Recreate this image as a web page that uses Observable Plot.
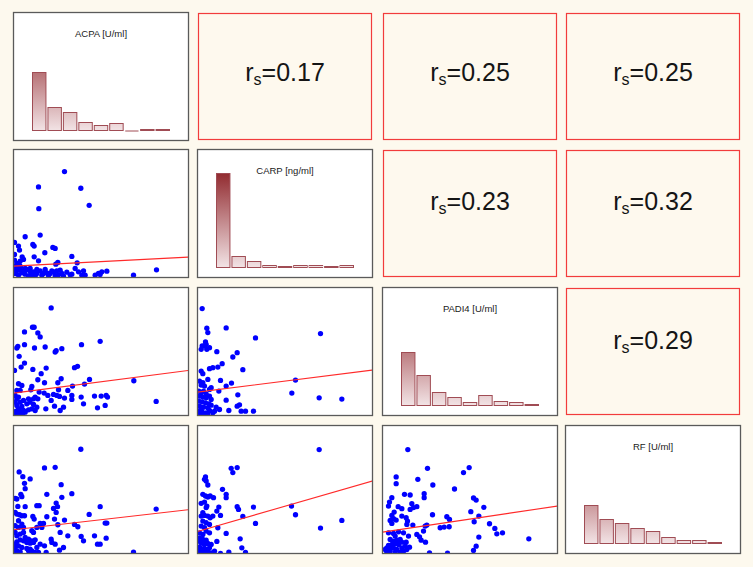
<!DOCTYPE html>
<html><head><meta charset="utf-8">
<script src="https://cdn.jsdelivr.net/npm/d3@7"></script>
<script src="https://cdn.jsdelivr.net/npm/@observablehq/plot@0.6"></script>
<style>
html,body{margin:0;padding:0;background:#fdf9ee;}
#chart{position:relative;width:753px;height:567px;background:#fdf9ee;overflow:hidden;font-family:"Liberation Sans",Arial,sans-serif;}
#chart svg{position:absolute;}
</style></head><body><div id="chart"></div>
<script>
// ---------- DATA ----------
const variables = ["ACPA [U/ml]", "CARP [ng/ml]", "PADI4 [U/ml]", "RF [U/ml]"];
const histBins = [0, 1, 2, 3, 4, 5, 6, 7, 8];
const histACPA  = [58, 23, 18, 8, 5, 7, 0, 1, 1];
const histCARP  = [94, 11, 6, 2, 1, 2, 2, 1, 2];
const histPADI4 = [53, 30, 13, 8, 3, 10, 4, 3, 1];
const histRF    = [38, 24, 20, 15, 12, 6, 3, 3, 1];

// Spearman coefficients (row, col, value) for the upper triangle
const rsRows = [0, 0, 0, 1, 1, 2];
const rsCols = [1, 2, 3, 2, 3, 3];
const rsValues = [0.17, 0.25, 0.25, 0.23, 0.32, 0.29];

// scatter values (relative units, x 0–525, y 0–383)
const xMax = 525, yMax = 383;
const acpaCarp = [[153,317],[75,271],[202,267],[76,206],[227,216],[35,122],[80,127],[3,105],[15,94],[18,82],[58,99],[62,94],[118,90],[125,87],[94,74],[3,69],[26,62],[30,54],[62,62],[75,50],[175,63],[191,44],[133,45],[127,40],[20,49],
[5,34],[10,27],[20,22],[30,20],[40,24],[50,27],[60,17],[70,12],[80,20],[95,24],[100,14],[110,12],[120,17],[130,20],[140,22],[145,12],[160,16],[175,10],[185,27],[195,17],[210,20],[215,7],[245,7],[255,12],[265,17],[280,19],[260,9],[5,12],[15,7],[25,14],[35,10],[45,4],[55,9],[65,4],[85,7],[105,6],[125,6],[135,8],[150,4],[170,8],[205,7],[360,7],[429,23],[3,22],[8,17],[18,37],[50,17],[35,27],[70,24],[90,12],[115,20],[22,32],[3,52],[10,42]];
const acpaPadi4 = [[113,322],[57,264],[62,264],[33,250],[73,247],[80,235],[260,222],[204,212],[33,212],[10,202],[13,207],[63,202],[95,205],[125,190],[128,194],[145,200],[17,177],[33,157],[23,145],[3,135],[58,138],[98,142],[183,143],[192,147],[83,125],[73,107],[93,98],[143,110],[133,98],[228,108],[213,94],[177,88],[15,95],[25,90],[55,87],[361,104],[10,75],[20,75],[52,77],[77,70],[92,67],[135,77],[163,75],[103,60],[120,63],[130,60],[138,57],[175,60],[153,52],[203,55],[243,58],[263,58],[278,60],[282,55],[428,42],[210,35],[175,48],[113,45],[123,28],[150,25],[97,20],[140,15],[275,30],[252,23],[60,50],[65,55],[73,50],
[5,60],[10,50],[15,55],[20,40],[5,40],[10,30],[15,20],[25,27],[30,15],[8,13],[20,10],[35,10],[45,17],[55,20],[65,15],[70,25],[40,35],[50,40],[30,45],[45,50],[60,33],[28,7],[5,7],[15,5]];
const acpaRF = [[202,312],[93,256],[125,258],[17,244],[28,230],[50,223],[33,210],[143,206],[35,194],[22,177],[25,170],[5,165],[10,163],[100,177],[175,179],[145,168],[128,151],[70,143],[77,143],[120,135],[132,140],[35,140],[13,141],[260,140],[428,133],[5,123],[10,118],[18,116],[25,113],[33,113],[128,123],[58,111],[62,103],[100,110],[123,103],[153,100],[227,117],[275,91],[280,91],[183,87],[193,80],[133,86],[90,90],[80,90],[70,78],[85,78],[15,98],[25,88],[5,83],[15,78],[30,78],[55,68],[60,63],[140,63],[163,53],[203,51],[210,38],[243,53],[278,46],[252,28],[260,28],[113,43],[115,33],[125,28],[150,18],[138,10],[93,23],[98,3],[75,3],[360,4],
[5,63],[10,53],[20,58],[30,63],[35,48],[45,43],[55,38],[65,41],[60,33],[50,31],[40,33],[30,38],[20,41],[10,35],[5,28],[5,18],[15,23],[25,18],[40,15],[50,13],[45,8],[55,8],[65,3],[10,8],[20,5],[5,3],[70,18],[80,28]];
const carpPadi4 = [[14,320],[28,261],[31,248],[86,262],[174,232],[369,245],[24,220],[26,213],[14,208],[11,198],[21,208],[28,198],[36,203],[58,191],[119,188],[106,175],[74,155],[61,145],[46,143],[36,140],[136,137],[11,133],[16,125],[31,108],[69,105],[102,97],[86,88],[294,106],[6,103],[16,98],[11,91],[21,88],[41,83],[36,78],[64,73],[283,67],[365,53],[433,49],[121,62],[86,46],[126,32],[119,28],[94,15],[131,13],[144,13],[168,13],[56,25],[66,18],[51,13],
[4,73],[11,68],[18,73],[26,65],[6,58],[16,55],[26,53],[36,58],[41,48],[4,43],[14,41],[24,38],[34,35],[6,28],[18,25],[31,23],[41,31],[4,13],[14,11],[26,8],[36,15],[21,3],[6,5],[46,8],[31,3],[11,18]];
const carpRF = [[365,311],[101,255],[119,257],[106,242],[24,229],[21,222],[26,217],[31,205],[75,192],[86,177],[86,167],[16,177],[24,172],[31,169],[38,172],[48,167],[11,150],[21,154],[28,142],[26,137],[64,139],[58,127],[119,140],[123,132],[168,139],[282,142],[294,116],[136,111],[174,90],[16,122],[11,112],[21,114],[31,112],[38,107],[46,112],[69,114],[16,97],[26,92],[36,87],[11,82],[21,77],[61,77],[369,76],[433,99],[86,60],[6,62],[16,57],[26,67],[36,62],[128,44],[58,36],[133,17],[144,3],[94,4],[69,0],[51,7],
[6,47],[16,42],[26,40],[11,32],[21,27],[31,30],[6,20],[16,14],[26,12],[36,17],[6,7],[18,4],[31,7],[41,2],[11,2],[41,27],[4,37]];
const padi4RF = [[76,311],[135,255],[243,242],[260,257],[41,229],[41,209],[106,222],[151,205],[216,193],[66,177],[83,175],[125,179],[125,167],[28,167],[21,154],[18,142],[273,166],[281,160],[88,149],[93,137],[103,140],[83,132],[47,140],[58,134],[304,138],[35,124],[28,114],[33,104],[23,99],[41,100],[28,90],[58,112],[71,107],[75,97],[73,87],[150,116],[265,125],[289,112],[193,110],[201,102],[275,95],[91,85],[133,85],[128,82],[173,77],[185,79],[200,80],[321,89],[337,75],[343,59],[360,62],[439,44],[289,49],[281,22],[273,9],[103,57],[111,50],[116,40],[123,67],[129,34],[141,2],[195,1],[18,62],[33,60],[48,65],[63,62],[78,52],[38,52],
[23,42],[33,37],[43,40],[53,42],[58,34],[48,27],[38,30],[28,27],[18,24],[13,17],[23,14],[33,17],[43,12],[58,17],[68,22],[73,12],[63,7],[53,4],[38,4],[23,7],[13,4],[81,19],[71,34],[8,12]];

// regression lines: fitted y at x = 0 and at x = xMax
const lineACPA_CARP  = [34, 61];
const lineACPA_PADI4 = [67, 135];
const lineACPA_RF    = [71, 131];
const lineCARP_PADI4 = [70, 136];
const lineCARP_RF    = [66, 217];
const linePADI4_RF   = [64, 142];

// ---------- LAYOUT ----------
const colLeft = [13, 197, 382, 565];
const rowTop = [12, 149, 287, 425];
const PW = 175, PH = 128;
const rsDy = [-4, -12, -11];
const container = document.getElementById("chart");
const FONT = "'Liberation Sans', Arial, sans-serif";

const common = {
  width: PW + 2, height: PH + 2,
  marginTop: 1, marginRight: 1, marginBottom: 1, marginLeft: 1,
  style: {background: "transparent", fontFamily: FONT, overflow: "visible"}
};

function place(svg, i, j) {
  svg.style.left = (colLeft[j] - 1) + "px";
  svg.style.top = (rowTop[i] - 1) + "px";
  container.appendChild(svg);
}

function scatter(pts, line) {
  return Plot.plot({
    ...common,
    x: {domain: [0, xMax], axis: null},
    y: {domain: [0, yMax], axis: null},
    marks: [
      Plot.frame({fill: "white"}),
      Plot.dot(pts, {x: d => d[0], y: d => d[1], r: 2.65, fill: "#0000ff", stroke: "none", clip: true}),
      Plot.line([[0, line[0]], [xMax, line[1]]], {x: d => d[0], y: d => d[1], stroke: "#ff2a2a", strokeWidth: 1.1, clip: true}),
      Plot.frame({stroke: "#5a5a5a", strokeWidth: 1.3})
    ]
  });
}

function hist(title, counts, id) {
  const data = histBins.map((b, k) => ({bin: b, count: counts[k]}));
  const base = 1 + PH - 9.5;
  const svg = Plot.plot({
    ...common,
    x: {domain: [0, 9], range: [1 + 18.5, 1 + 157.5], axis: null},
    y: {domain: [0, 118.5], range: [base, 1], axis: null},
    marks: [
      Plot.frame({fill: "white"}),
      Plot.rectY(data, {x1: d => d.bin, x2: d => d.bin + 1, y: "count", insetLeft: 1, insetRight: 1,
        fill: `url(#${id})`, stroke: "#a04c54", strokeWidth: 1}),
      Plot.ruleY(data.filter(d => d.count === 0), {y: 0, x1: d => d.bin + 0.07, x2: d => d.bin + 0.93, stroke: "#a04c54", strokeWidth: 1}),
      Plot.text([title], {frameAnchor: "top", dy: 17.5, text: d => d, fontSize: 9.5, fill: "#1a1a1a"}),
      Plot.frame({stroke: "#5a5a5a", strokeWidth: 1.3})
    ]
  });
  const defs = d3.select(svg).insert("defs", ":first-child");
  const g = defs.append("linearGradient").attr("id", id).attr("gradientUnits", "userSpaceOnUse")
    .attr("x1", 0).attr("x2", 0).attr("y1", base).attr("y2", base - 100);
  g.append("stop").attr("offset", 0).attr("stop-color", "#f2e3e5");
  g.append("stop").attr("offset", 1).attr("stop-color", "#8c2025");
  return svg;
}

function rsPanel(value, row) {
  const svg = Plot.plot({
    ...common,
    marks: [
      Plot.frame({fill: "#fef9ee", stroke: "#f23c3c", strokeWidth: 1.2, inset: 1}),
      Plot.text([value], {frameAnchor: "middle", dy: rsDy[row], text: d => "r=" + d.toFixed(2), fontSize: 25, fill: "#151515"})
    ]
  });
  d3.select(svg).selectAll('g[aria-label="text"] text').each(function() {
    const t = d3.select(this);
    const str = this.textContent;
    t.text(null);
    t.append("tspan").text("r");
    t.append("tspan").attr("font-size", 16).attr("dy", 4).text("s");
    t.append("tspan").attr("dy", -4).text(str.slice(1));
  });
  return svg;
}

// diagonal
const hists = [histACPA, histCARP, histPADI4, histRF];
hists.forEach((h, k) => place(hist(variables[k], h, "grad" + k), k, k));

// lower triangle
const scatters = [
  [1, 0, acpaCarp, lineACPA_CARP],
  [2, 0, acpaPadi4, lineACPA_PADI4],
  [3, 0, acpaRF, lineACPA_RF],
  [2, 1, carpPadi4, lineCARP_PADI4],
  [3, 1, carpRF, lineCARP_RF],
  [3, 2, padi4RF, linePADI4_RF]
];
scatters.forEach(([i, j, pts, line]) => place(scatter(pts, line), i, j));

// upper triangle
rsValues.forEach((v, k) => place(rsPanel(v, rsRows[k]), rsRows[k], rsCols[k]));
</script></body></html>
